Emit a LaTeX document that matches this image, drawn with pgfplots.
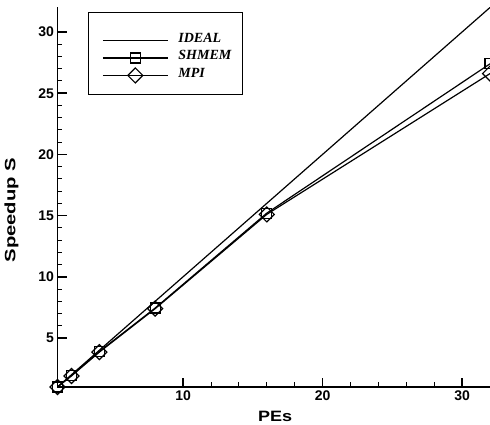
\documentclass[border=0pt]{standalone}
\usepackage{fontspec}
\setmainfont{Liberation Sans}
\newfontfamily\serifbi{Liberation Serif}
\usepackage{graphicx}
\usepackage{pgfplots}
\pgfplotsset{compat=1.18}
\begin{document}
\begin{tikzpicture}
\begin{axis}[
  scale only axis, width=432.5pt, height=379.5pt,
  xmin=1, xmax=32, ymin=1, ymax=32,
  axis x line*=bottom, axis y line*=left,
  axis line style={line width=1.8pt},
  xtick={10,20,30}, ytick={5,10,...,30},
  minor x tick num=4, minor y tick num=4,
  tick align=inside,
  major tick length=9pt, minor tick length=4.5pt,
  every major tick/.style={line width=1.5pt, black},
  every minor tick/.style={line width=0.9pt, black},
  ticklabel style={font=\bfseries\fontsize{14}{14}\selectfont},
  /pgf/number format/assume math mode=true,
  xlabel={\scalebox{1.2}[1]{PEs}},
  ylabel={\scalebox{1.35}[1]{Speedup S}},
  label style={font=\bfseries\fontsize{15}{15}\selectfont},
  x label style={at={(axis description cs:0.503,-0.077)}, anchor=center},
  y label style={at={(axis description cs:-0.1065,0.466)}, anchor=center, rotate=0},
  legend image code/.code={\draw[mark repeat=2,mark phase=2,#1] plot coordinates {(0pt,0pt) (32.5pt,0pt) (65pt,0pt)};},
  legend style={at={(axis description cs:0.103,0.867)}, anchor=west, draw=none, fill=none,
    inner sep=0pt, row sep=0pt, column sep=10pt,
    font=\serifbi\bfseries\itshape\fontsize{14}{14}\selectfont,
    nodes={inner sep=0pt, text height=10.5pt, text depth=7pt}},
  legend cell align=left,
]
\addplot[black, line width=1.2pt] coordinates {(1,1) (32,32)};
\addlegendentry{IDEAL}
\addplot[black, line width=1.2pt, mark=square, mark size=5pt, mark options={fill=white, line width=1.2pt}]
  coordinates {(1,1) (2,1.95) (4,3.9) (8,7.45) (16,15.2) (32,27.4)};
\addlegendentry{SHMEM}
\addplot[black, line width=1.2pt, mark=square, mark size=5.3pt, mark options={fill=white, line width=1.2pt, rotate=45}]
  coordinates {(1,1) (2,1.9) (4,3.85) (8,7.4) (16,15.1) (32,26.6)};
\addlegendentry{MPI}
\draw[line width=1pt] (rel axis cs:0.0728,0.772) rectangle (rel axis cs:0.4266,0.988);
\end{axis}
\pgfresetboundingbox
\path ([xshift=-57.5pt,yshift=-38pt]current axis.south west) rectangle ([yshift=7.5pt]current axis.north east);
\end{tikzpicture}
\end{document}
